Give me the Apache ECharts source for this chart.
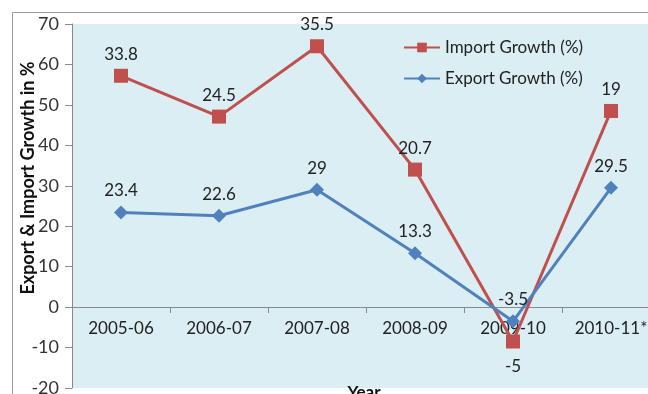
<!DOCTYPE html>
<html>
<head>
<meta charset="utf-8">
<script src="https://cdn.jsdelivr.net/npm/echarts@6/dist/echarts.min.js"></script>
<style>
  html, body { margin: 0; padding: 0; background: #fff; }
  #chart { width: 648px; height: 394px; }
</style>
</head>
<body>
<div id="chart"></div>
<script>
const years = ["2005-06", "2006-07", "2007-08", "2008-09", "2009-10", "2010-11*"];
const exportGrowth = [23.4, 22.6, 29, 13.3, -3.5, 29.5];
const importGrowth = [33.8, 24.5, 35.5, 20.7, -5, 19];
const yTicks = { min: -20, max: 70, step: 10 };

const FONT = "Lato, 'Open Sans', sans-serif";
const red = "#C0504D";
const blue = "#4F81BD";

const gridTop = 24, gridBottom = 6;
const gridH = 394 - gridTop - gridBottom;
// the category axis sits on the zero line, as in the Excel original
const zeroFromBottom = gridH * (0 - yTicks.min) / (yTicks.max - yTicks.min);

// negative import value gets its label under the point
const withLabelSide = (vals, flip) => vals.map(v => ({
  value: v,
  label: flip && v < 0 ? { position: "bottom", distance: 10 } : { position: "top" }
}));

const chart = echarts.init(document.getElementById("chart"));

chart.setOption({
  animation: false,
  textStyle: { fontFamily: FONT },
  grid: {
    left: 72, right: -12, top: gridTop, bottom: gridBottom,
    outerBoundsMode: "none",
    containLabel: false,
    show: true, backgroundColor: "#DBEEF4", borderWidth: 0
  },
  legend: {
    orient: "vertical",
    left: 398, top: 34,
    itemWidth: 36, itemHeight: 12, itemGap: 14,
    data: ["Import Growth (%)", "Export Growth (%)"],
    textStyle: { fontFamily: FONT, fontSize: 17, color: "#222" }
  },
  xAxis: {
    type: "category",
    data: years,
    offset: -zeroFromBottom,
    axisLine: { onZero: false, lineStyle: { color: "#8a8a8a", width: 1 } },
    axisTick: { show: true, inside: false, length: 6, interval: 0, lineStyle: { color: "#8a8a8a" } },
    axisLabel: { fontFamily: FONT, fontSize: 17, color: "#222", margin: 13, interval: 0 },
    splitLine: { show: false }
  },
  yAxis: {
    type: "value",
    min: yTicks.min, max: yTicks.max, interval: yTicks.step,
    axisLine: { show: true, lineStyle: { color: "#8a8a8a", width: 1 } },
    axisTick: { show: true, length: 7, lineStyle: { color: "#8a8a8a" } },
    axisLabel: { fontFamily: FONT, fontSize: 18, color: "#333", margin: 13 },
    splitLine: { show: false }
  },
  series: [
    {
      name: "Export Growth (%)",
      type: "line",
      stack: "growth",
      data: withLabelSide(exportGrowth, false),
      symbol: "diamond",
      symbolSize: 14,
      lineStyle: { color: blue, width: 3 },
      itemStyle: { color: blue },
      label: { show: true, fontFamily: FONT, fontSize: 17, color: "#222", distance: 6 },
      z: 3
    },
    {
      name: "Import Growth (%)",
      type: "line",
      stack: "growth",
      data: withLabelSide(importGrowth, true),
      symbol: "rect",
      symbolSize: 14,
      lineStyle: { color: red, width: 3 },
      itemStyle: { color: red },
      label: { show: true, fontFamily: FONT, fontSize: 17, color: "#222", distance: 6 },
      z: 2
    }
  ],
  graphic: [
    {
      type: "rect",
      shape: { x: 12.5, y: 12.5, width: 700, height: 500 },
      style: { fill: null, stroke: "#9a9a9a", lineWidth: 1 },
      silent: true, z: -1
    },
    {
      type: "text",
      x: 28, y: 178,
      rotation: Math.PI / 2,
      style: {
        text: "Export & Import Growth in %",
        fontFamily: FONT, fontSize: 18, fontWeight: "bold", fill: "#111",
        align: "center", verticalAlign: "middle"
      }
    },
    {
      type: "text",
      x: 364, y: 393,
      style: {
        text: "Year",
        fontFamily: FONT, fontSize: 17, fontWeight: "bold", fill: "#111",
        align: "center", verticalAlign: "middle"
      }
    }
  ]
});
</script>
</body>
</html>
